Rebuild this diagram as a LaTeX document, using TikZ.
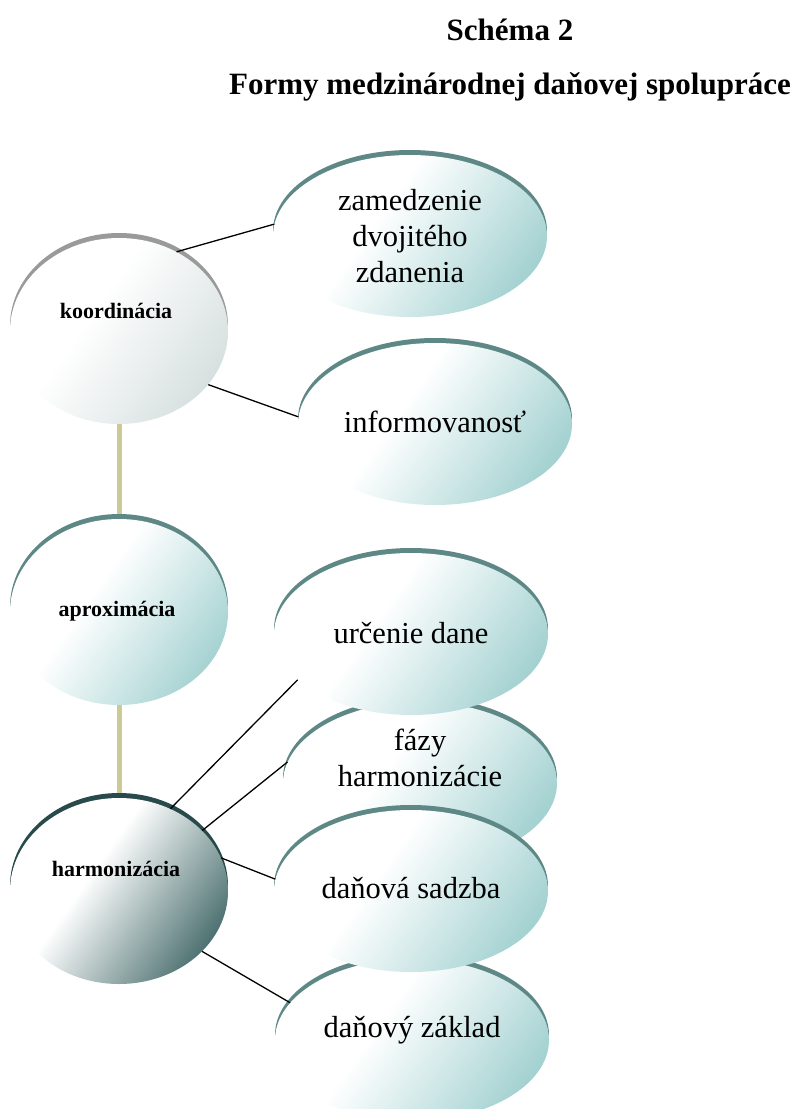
\documentclass[tikz,border=0pt]{standalone}
\usepackage{fontspec}
\setmainfont{Liberation Serif}
\usetikzlibrary{shapes.geometric,shadows}
\definecolor{tealD}{HTML}{A4D1D1}
\definecolor{tealM}{HTML}{D5EAEA}
\definecolor{rimT}{HTML}{5E8886}
\definecolor{grayD}{HTML}{D6DFDF}
\definecolor{grayM}{HTML}{ECF0F0}
\definecolor{rimG}{HTML}{9A9A9A}
\definecolor{darkD}{HTML}{4A6E6E}
\definecolor{darkM}{HTML}{B4C3C3}
\definecolor{rimD}{HTML}{294A4A}
\definecolor{khaki}{HTML}{CCCA97}
\pgfdeclareverticalshading{tealshade}{100bp}{color(0bp)=(tealD); color(24bp)=(tealD); color(42bp)=(tealM); color(58bp)=(white); color(100bp)=(white)}
\pgfdeclareverticalshading{grayshade}{100bp}{color(0bp)=(grayD); color(24bp)=(grayD); color(42bp)=(grayM); color(58bp)=(white); color(100bp)=(white)}
\pgfdeclareverticalshading{darkshade}{100bp}{color(0bp)=(darkD); color(24bp)=(darkD); color(44bp)=(darkM); color(58bp)=(white); color(100bp)=(white)}
\pgfdeclarelayer{background}
\pgfsetlayers{background,main}
\tikzset{
  basell/.style={ellipse, inner sep=0pt, shade, shading angle=55, align=center},
  rightell/.style={basell, minimum width=274pt, minimum height=162pt, shading=tealshade,
    general shadow={fill=rimT, shadow yshift=5pt}},
  circ/.style={basell, minimum width=218pt, minimum height=186pt},
  circgray/.style={circ, shading=grayshade, general shadow={fill=rimG, shadow yshift=5pt}},
  circteal/.style={circ, shading=tealshade, general shadow={fill=rimT, shadow yshift=5pt}},
  circdark/.style={circ, shading=darkshade, general shadow={fill=rimD, shadow yshift=5pt}},
  elltext/.style={align=center, font=\fontsize{30.5}{36}\selectfont, inner sep=0pt},
  circtext/.style={font=\bfseries\fontsize{22}{26}\selectfont, inner sep=0pt},
  titletext/.style={font=\bfseries\fontsize{31}{36}\selectfont, inner sep=0pt, anchor=base},
  vline/.style={draw=khaki, line width=5pt},
  link/.style={draw=black, line width=1.3pt}
}
\begin{document}
\begin{tikzpicture}[x=1pt, y=-1pt]
\useasboundingbox (0,0) rectangle (797,1109);
\clip (0,0) rectangle (797,1109);
% titles
\node[titletext] (t1) at (510,40) {Schéma 2};
\node[titletext] (t2) at (510,94) {Formy medzinárodnej daňovej spolupráce};
% right ellipses
\node[rightell] (zam) at (410,236) {};
\node[elltext] (zamt) at (410,236) {zamedzenie\\dvojitého\\zdanenia};
\node[rightell] (inf) at (435,424) {};
\node[elltext] (inft) at (435,422) {informovanosť};
\node[rightell] (faz) at (420,783) {};
\node[elltext] (fazt) at (420,758) {fázy\\harmonizácie};
\node[rightell] (zak) at (412,1040) {};
\node[elltext] (zakt) at (412,1030) {daňový základ};
\node[rightell] (urc) at (411,634) {};
\node[elltext] (urct) at (411,633) {určenie dane};
\node[rightell] (sad) at (411,891) {};
\node[elltext] (sadt) at (411,888) {daňová sadzba};
% left circles
\node[circgray] (koo) at (119,331) {};
\node[circtext] (koot) at (116,311) {koordinácia};
\node[circteal] (apr) at (119,612) {};
\node[circtext] (aprt) at (117,611) {aproximácia};
\node[circdark] (har) at (119,891) {};
\node[circtext] (hart) at (116,869) {harmonizácia};
% connectors
\begin{pgfonlayer}{background}
\draw[vline] (koo.south) -- (apr.north);
\draw[vline] (apr.south) -- (har.north);
\end{pgfonlayer}
\draw[link] (koo.54) -- (zam.175);
\draw[link] (koo.-31) -- (inf.177);
\draw[link] (har.58) -- (urc.202);
\draw[link] (har.36) -- (faz.171);
\draw[link] (har.18) -- (sad.175);
\draw[link] (har.-36) -- (zak.163);
\end{tikzpicture}
\end{document}
